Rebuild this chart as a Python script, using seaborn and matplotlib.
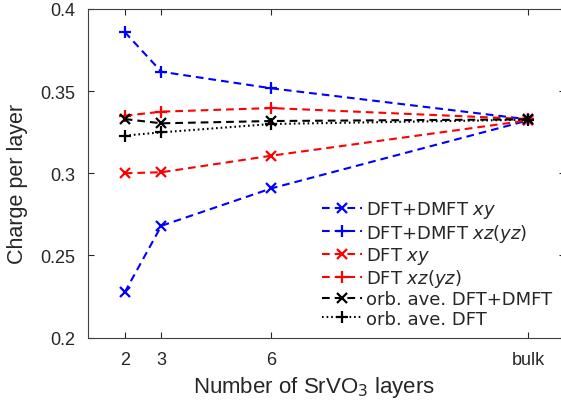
import numpy as np
import matplotlib
matplotlib.use("Agg")
import matplotlib.pyplot as plt
import seaborn as sb

# Daten
layers = [2, 3, 6, 13]
layer_labels = ["2", "3", "6", "bulk"]

dmft_xy = [0.2275, 0.268, 0.2908, 0.3322]
dmft_xz = [0.386, 0.3618, 0.3517, 0.3328]
dft_xy = [0.300, 0.3006, 0.3107, 0.3322]
dft_xz = [0.335, 0.3375, 0.3397, 0.3330]
ave_dmft = [0.333, 0.3304, 0.3318, 0.3328]
ave_dft = [0.3229, 0.3249, 0.330, 0.3326]

series = [
    (dmft_xy, "DFT+DMFT $\\mathit{xy}$", "#0000ff", "x", "dash"),
    (dmft_xz, "DFT+DMFT $\\mathit{xz(yz)}$", "#0000ff", "+", "dash"),
    (dft_xy, "DFT $\\mathit{xy}$", "#ff0000", "x", "dash"),
    (dft_xz, "DFT $\\mathit{xz(yz)}$", "#ff0000", "+", "dash"),
    (ave_dmft, "orb. ave. DFT+DMFT", "black", "x", "dash"),
    (ave_dft, "orb. ave. DFT", "black", "+", "dot"),
]

sb.set_style("ticks", {"xtick.direction": "in", "ytick.direction": "in"})
plt.rcParams["font.family"] = ["Liberation Sans", "DejaVu Sans"]
plt.rcParams["mathtext.fontset"] = "dejavusans"
plt.rcParams["text.color"] = "#262626"

fig = plt.figure(figsize=(5.61, 4.06), dpi=100)
ax = fig.add_axes([88/561, 1-338.5/406, 477/561, 328.5/406])

styles = {"dash": (0, (3.7, 2.4)), "dot": (0, (0.8, 1.4))}
for vals, lab, col, mk, ls in series:
    sb.lineplot(x=layers, y=vals, ax=ax, color=col, marker=mk, markersize=9 if mk == "+" else 7,
                markeredgecolor=col, markeredgewidth=1.6, linewidth=1.5,
                linestyle=styles[ls], label=lab)

ax.set_xlim(1, 14)
ax.set_ylim(0.2, 0.4)
ax.set_xticks(layers)
ax.set_xticklabels(layer_labels)
ax.set_yticks([0.2, 0.25, 0.3, 0.35, 0.4])
ax.set_yticklabels(["0.2", "0.25", "0.3", "0.35", "0.4"])
ax.tick_params(labelsize=13, colors="#262626", length=4, width=0.8,
               top=True, right=True)
ax.tick_params(axis="y", pad=9)
ax.tick_params(axis="x", pad=10)
for s in ax.spines.values():
    s.set_color("#404040")
    s.set_linewidth(0.8)

ax.set_xlabel("Number of SrVO$_3$ layers", fontsize=16, color="#262626")
ax.set_ylabel("Charge per layer", fontsize=15.5, color="#262626")
ax.xaxis.set_label_coords(0.474, -0.11)
ax.yaxis.set_label_coords(-0.126, 0.47)

leg = ax.legend(loc="lower left", bbox_to_anchor=(0.4906, 0.03), frameon=False,
                prop={"family": "DejaVu Sans", "size": 13}, numpoints=1,
                handlelength=2.2, handletextpad=0.25, labelspacing=0.07,
                borderaxespad=0, borderpad=0)

fig.savefig("out.png", dpi=100)
